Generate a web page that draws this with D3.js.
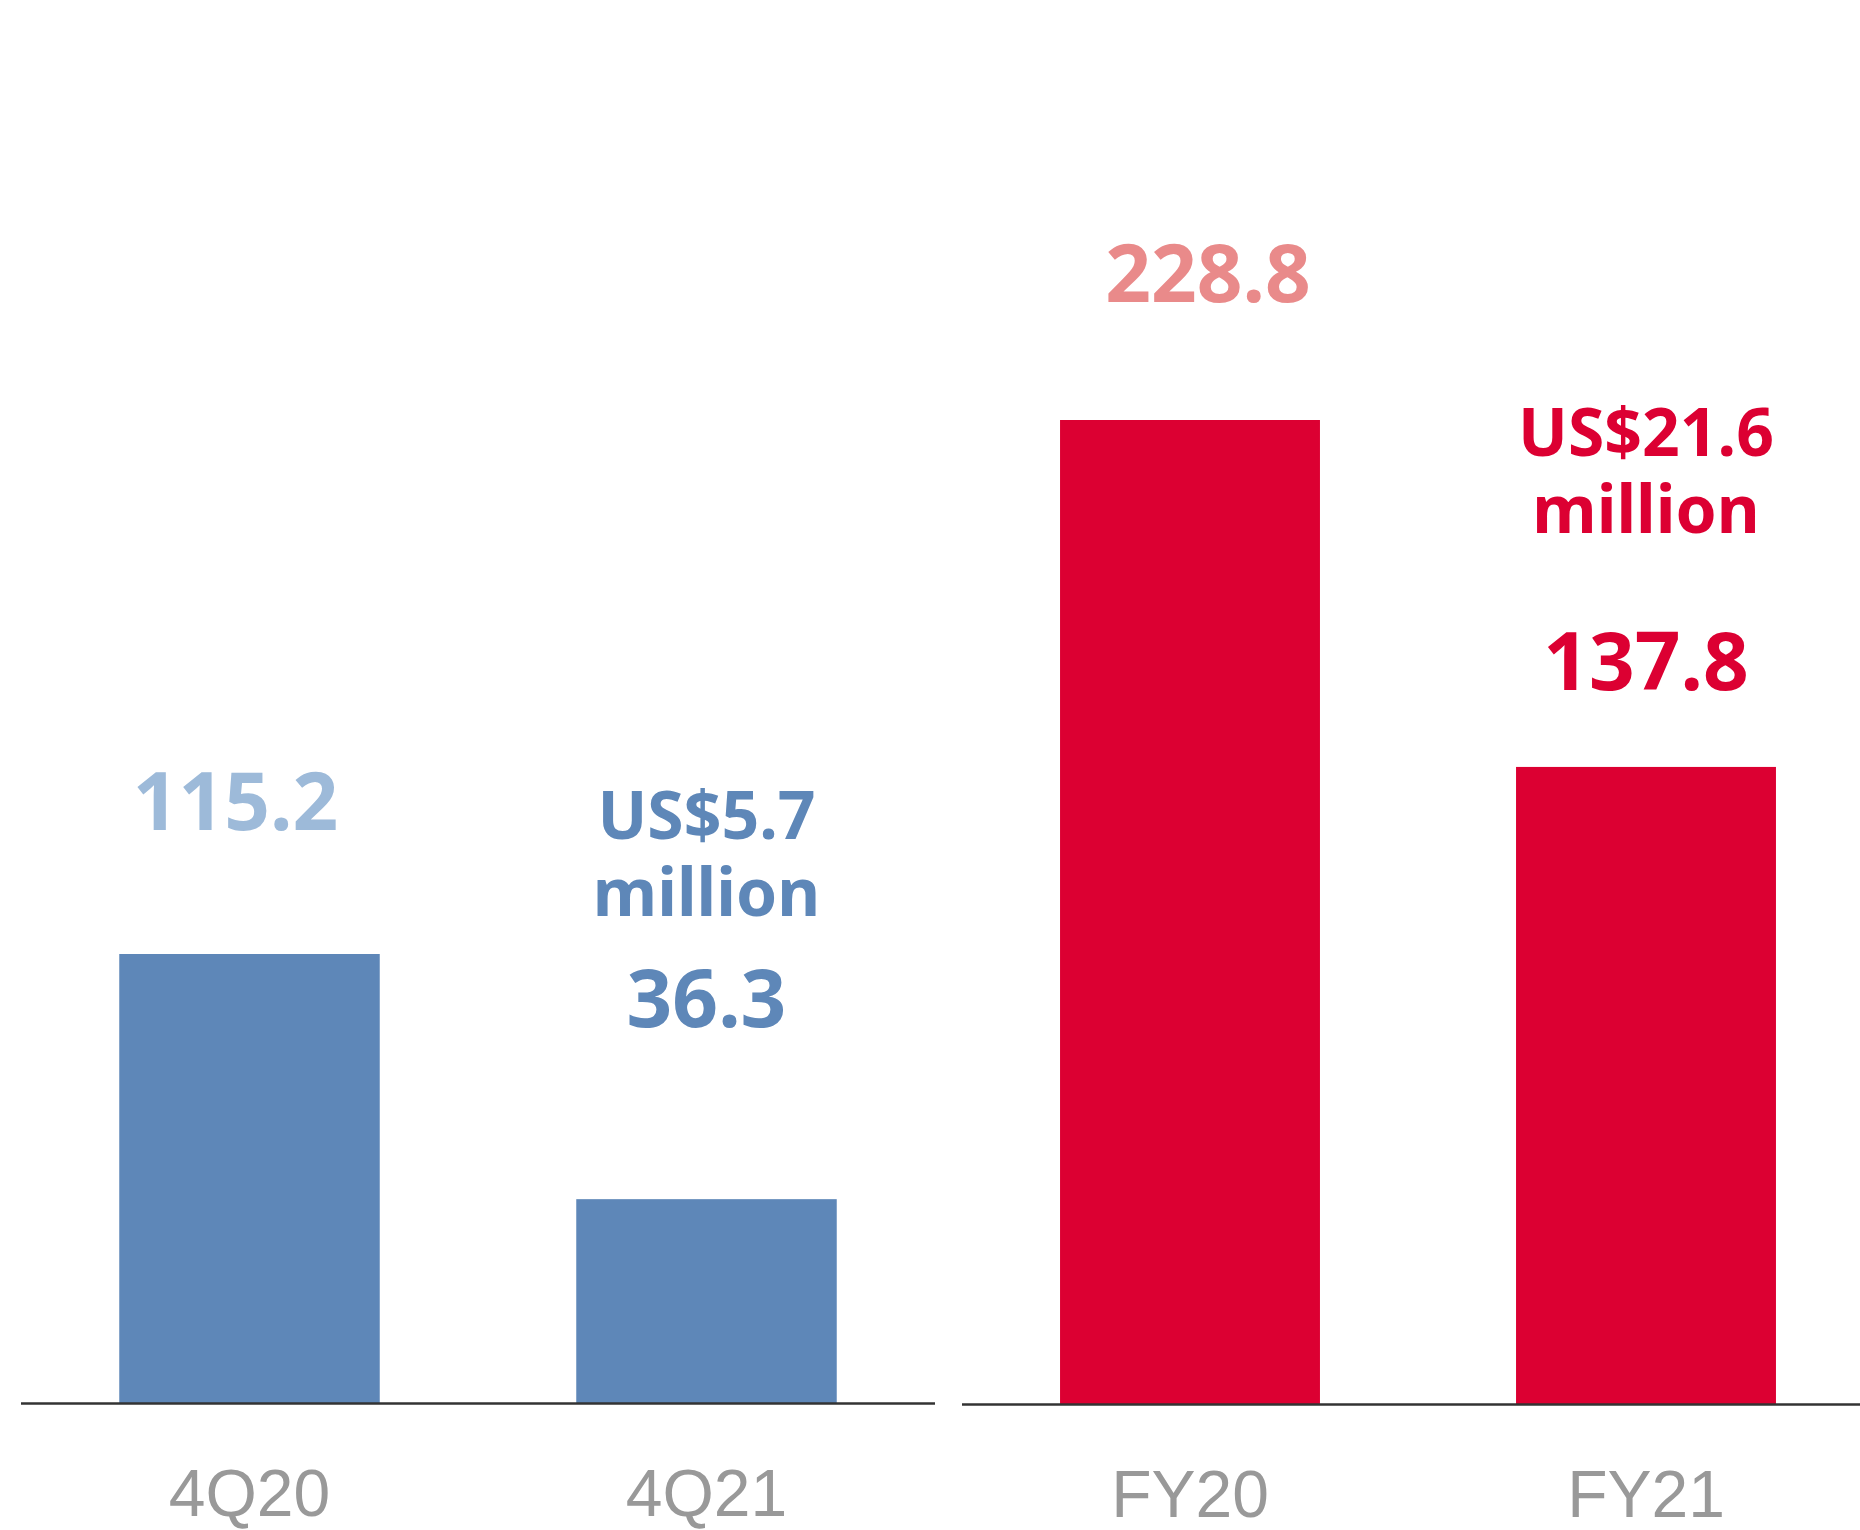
<!DOCTYPE html>
<html>
<head>
<meta charset="utf-8">
<script src="https://cdn.jsdelivr.net/npm/d3@7"></script>
<style>
  html, body { margin: 0; padding: 0; background: #fff; }
  svg { display: block; }
</style>
</head>
<body>
<svg></svg>
<script>
// data
const quarterCats = ['4Q20', '4Q21']
const quarterVals = [115.2, 36.3]
const yearCats = ['FY20', 'FY21']
const yearVals = [228.8, 137.8]
const quarterNote = ['US$5.7', 'million']
const yearNote = ['US$21.6', 'million']
// the bars sit on a baseline below zero
const yBase = -29.3

const
    svgWidth = 1860,
    svgHeight = 1530

const svg = d3.select('svg')
    .attr('width', svgWidth)
    .attr('height', svgHeight)

const boldFont = '"Noto Sans", "Open Sans", sans-serif'
const catFont = '"Liberation Sans Narrow", "Liberation Sans", Arial, sans-serif'

function panel(opts) {
    const x = d3.scaleBand()
        .domain(opts.cats)
        .range(opts.xRange)
        .paddingInner(0.43)
        .paddingOuter(0.215)

    const y = d3.scaleLinear()
        .domain([yBase, d3.max(opts.vals)])
        .range([opts.baseY, opts.topY])

    const g = svg.append('g')

    g.selectAll('rect')
        .data(opts.vals)
        .enter()
        .append('rect')
            .attr('x', (d, i) => x(opts.cats[i]))
            .attr('y', d => y(d))
            .attr('width', x.bandwidth())
            .attr('height', d => y(yBase) - y(d))
            .attr('fill', opts.barColor)

    // baseline
    g.append('line')
        .attr('x1', opts.lineX[0])
        .attr('x2', opts.lineX[1])
        .attr('y1', y(yBase) + 0.5)
        .attr('y2', y(yBase) + 0.5)
        .attr('stroke', '#333')
        .attr('stroke-width', 2.5)

    // category labels
    g.selectAll('text.cat')
        .data(opts.cats)
        .enter()
        .append('text')
            .attr('class', 'cat')
            .attr('x', d => x(d) + x.bandwidth() / 2)
            .attr('y', y(yBase) + 113)
            .attr('text-anchor', 'middle')
            .attr('font-family', catFont)
            .attr('font-size', 66)
            .attr('fill', '#999')
            .text(d => d)

    // value labels
    const cx = i => x(opts.cats[i]) + x.bandwidth() / 2
    g.append('text')
        .attr('x', cx(0) + opts.firstDx)
        .attr('y', y(opts.vals[0]) - opts.firstGap)
        .attr('text-anchor', 'middle')
        .attr('font-family', boldFont)
        .attr('font-weight', 700)
        .attr('font-size', 80)
        .attr('fill', opts.lightColor)
        .text(opts.vals[0].toFixed(1))

    const secondY = y(opts.vals[1]) - opts.secondGap
    g.append('text')
        .attr('x', cx(1))
        .attr('y', secondY)
        .attr('text-anchor', 'middle')
        .attr('font-family', boldFont)
        .attr('font-weight', 700)
        .attr('font-size', 80)
        .attr('fill', opts.darkColor)
        .text(opts.vals[1].toFixed(1))

    g.selectAll('text.note')
        .data(opts.note)
        .enter()
        .append('text')
            .attr('class', 'note')
            .attr('x', cx(1))
            .attr('y', (d, i) => secondY - opts.noteGap + i * 77)
            .attr('text-anchor', 'middle')
            .attr('font-family', boldFont)
            .attr('font-weight', 700)
            .attr('font-size', 66)
            .attr('fill', opts.darkColor)
            .text(d => d)
}

panel({
    cats: quarterCats,
    vals: quarterVals,
    note: quarterNote,
    xRange: [21, 935],
    lineX: [21, 935],
    baseY: 1403,
    topY: 954,
    barColor: '#5e87b8',
    lightColor: '#9dbad9',
    darkColor: '#5e87b8',
    firstDx: -14,
    firstGap: 124,
    secondGap: 172,
    noteGap: 188
})

panel({
    cats: yearCats,
    vals: yearVals,
    note: yearNote,
    xRange: [962, 1874],
    lineX: [962, 1860],
    baseY: 1404,
    topY: 420,
    barColor: '#dc0032',
    lightColor: '#e98a8a',
    darkColor: '#dc0032',
    firstDx: 18,
    firstGap: 118,
    secondGap: 77,
    noteGap: 234
})
</script>
</body>
</html>
